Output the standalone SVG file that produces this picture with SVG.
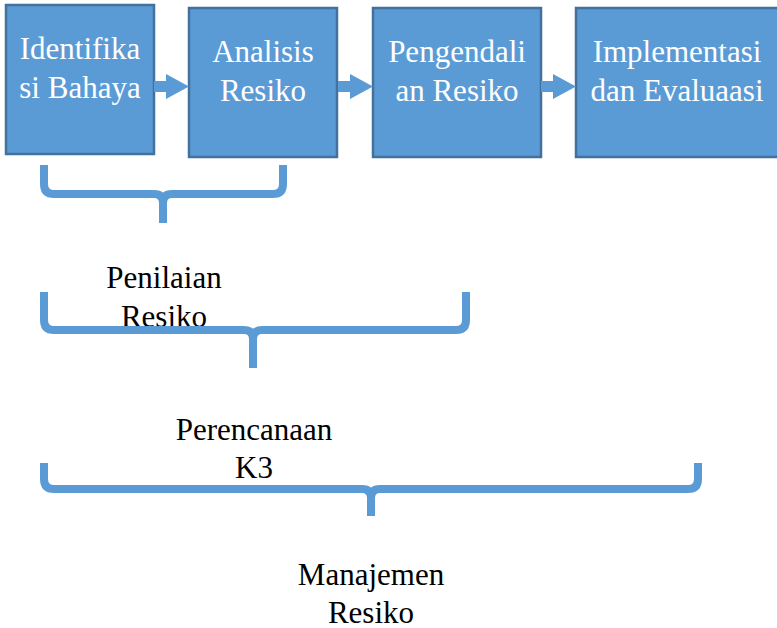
<svg xmlns="http://www.w3.org/2000/svg" width="777" height="628" viewBox="0 0 777 628">
<style>
.box{fill:#5b9bd5;stroke:#41719c;stroke-width:2.5}
.bt{font-family:"Liberation Serif","Times New Roman",serif;font-size:31px;fill:#ffffff;text-anchor:middle}
.lt{font-family:"Liberation Serif","Times New Roman",serif;font-size:31px;fill:#000000;text-anchor:middle}
.brace{fill:none;stroke:#5b9bd5;stroke-width:8;stroke-linejoin:round}
</style>
<defs>
<path id="arrow" d="M0,0 H12 V-7 L35,5.5 L12,18 V11 H0 Z"/>
</defs>
<rect width="777" height="628" fill="#ffffff"/>
<g id="node-identifikasi">
<rect class="box" x="6" y="5" width="148" height="149"/>
<text class="bt" x="80" y="59">Identifika</text>
<text class="bt" x="80" y="98">si Bahaya</text>
</g>
<g id="node-analisis">
<rect class="box" x="189" y="8" width="148" height="149"/>
<text class="bt" x="263" y="62">Analisis</text>
<text class="bt" x="263" y="101">Resiko</text>
</g>
<g id="node-pengendalian">
<rect class="box" x="373" y="8" width="168" height="149"/>
<text class="bt" x="457" y="62">Pengendali</text>
<text class="bt" x="457" y="101">an Resiko</text>
</g>
<g id="node-implementasi">
<rect class="box" x="576" y="8" width="203" height="149"/>
<text class="bt" x="677" y="62">Implementasi</text>
<text class="bt" x="677" y="101">dan Evaluaasi</text>
</g>
<g id="label-penilaian">
<text class="lt" x="164" y="288">Penilaian</text>
<text class="lt" x="164" y="327">Resiko</text>
</g>
<g id="label-perencanaan">
<text class="lt" x="254" y="440">Perencanaan</text>
<text class="lt" x="254" y="478">K3</text>
</g>
<g id="label-manajemen">
<text class="lt" x="371" y="585">Manajemen</text>
<text class="lt" x="371" y="623">Resiko</text>
</g>
<g id="connectors" fill="#5b9bd5">
<use href="#arrow" x="154" y="81"/>
<use href="#arrow" x="338" y="81"/>
<use href="#arrow" x="541" y="81"/>
<path class="brace" d="M44,165 V184 Q44,194 54,194 H154 Q163,194 163,203 V223 M283,165 V184 Q283,194 273,194 H172 Q163,194 163,203"/>
<path class="brace" d="M44,292 V320 Q44,330 54,330 H244 Q253,330 253,339 V368 M466,292 V320 Q466,330 456,330 H262 Q253,330 253,339"/>
<path class="brace" d="M44,463 V479 Q44,489 54,489 H362 Q371,489 371,498 V516 M698,463 V479 Q698,489 688,489 H380 Q371,489 371,498"/>
</g>
</svg>
